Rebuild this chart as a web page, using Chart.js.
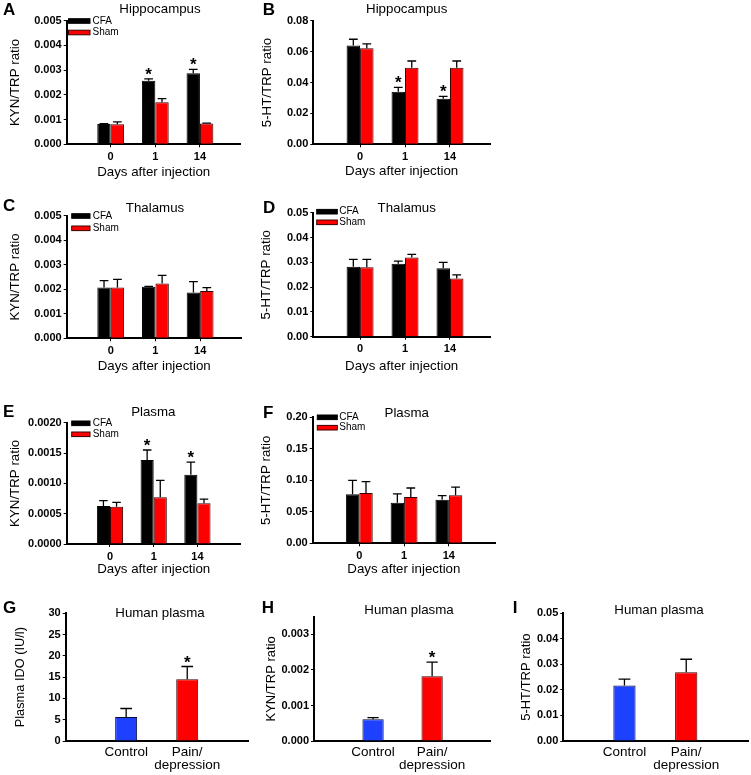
<!DOCTYPE html>
<html>
<head>
<meta charset="utf-8">
<script src="https://cdn.jsdelivr.net/npm/chart.js@4.4.1/dist/chart.umd.min.js"></script>
<style>
  body { margin: 0; background: #fff; overflow: hidden; }
  #wrap { position: relative; width: 751px; height: 775px; overflow: hidden; }
  canvas { position: absolute; }
</style>
</head>
<body>
<div id="wrap"></div>
<script>
// --- data ---
const days = ['0', '1', '14'];
const groups = ['CFA', 'Sham'];
const humanGroups = ['Control', ['Pain/', 'depression']];

// A: hippocampus KYN/TRP
const hipKynCfa = [0.00082, 0.00257, 0.00287];
const hipKynCfaErr = [0.00002, 0.00008, 0.00016];
const hipKynSham = [0.00081, 0.0017, 0.00084];
const hipKynShamErr = [0.0001, 0.00015, 0.00002];
const hipKynStars = [false, true, true];

// B: hippocampus 5-HT/TRP
const hip5htCfa = [0.064, 0.034, 0.0295];
const hip5htCfaErr = [0.004, 0.0028, 0.0015];
const hip5htSham = [0.0622, 0.0496, 0.0496];
const hip5htShamErr = [0.0028, 0.0043, 0.0043];
const hip5htStars = [false, true, true];

// C: thalamus KYN/TRP
const thaKynCfa = [0.00207, 0.0021, 0.00187];
const thaKynCfaErr = [0.00028, 0.00002, 0.00044];
const thaKynSham = [0.00207, 0.00224, 0.00193];
const thaKynShamErr = [0.00033, 0.00033, 0.00014];

// D: thalamus 5-HT/TRP
const tha5htCfa = [0.0282, 0.0294, 0.0276];
const tha5htCfaErr = [0.003, 0.0011, 0.0024];
const tha5htSham = [0.028, 0.0319, 0.0235];
const tha5htShamErr = [0.0032, 0.0013, 0.0014];

// E: plasma KYN/TRP
const plaKynCfa = [0.000626, 0.001385, 0.00114];
const plaKynCfaErr = [0.00009, 0.000165, 0.00021];
const plaKynSham = [0.000615, 0.00077, 0.00067];
const plaKynShamErr = [0.00007, 0.00028, 0.00007];
const plaKynStars = [false, true, true];

// F: plasma 5-HT/TRP
const pla5htCfa = [0.0778, 0.0645, 0.0693];
const pla5htCfaErr = [0.022, 0.014, 0.0064];
const pla5htSham = [0.08, 0.0735, 0.0762];
const pla5htShamErr = [0.018, 0.0143, 0.013];

// G-I: human plasma (control, pain/depression)
const humanIdo = [5.64, 14.5];
const humanIdoErr = [2.0, 3.0];
const humanIdoStars = [false, true];
const humanKyn = [0.00061, 0.00182];
const humanKynErr = [0.00005, 0.0004];
const humanKynStars = [false, true];
const human5ht = [0.0217, 0.0269];
const human5htErr = [0.0025, 0.0051];

// --- drawing ---
const FONT = "'Liberation Sans', Arial, Helvetica, sans-serif";
Chart.defaults.font.family = FONT;
Chart.defaults.color = '#000';

const RED = '#ff0000';
const RED_EDGE = '#3a0000';
const BLUE = '#1e40ff';
const BLUE_EDGE = '#000833';

// error bars, asterisks, panel letter, title and legend
const deco = {
  id: 'deco',
  afterDatasetsDraw(chart, args, o) {
    const ctx = chart.ctx;
    const ys = chart.scales.y;
    chart.data.datasets.forEach((ds, di) => {
      const meta = chart.getDatasetMeta(di);
      meta.data.forEach((bar, i) => {
        const top = ys.getPixelForValue(ds.data[i].y + ds.errs[i]);
        const cap = bar.width * o.cap;
        ctx.save();
        ctx.strokeStyle = '#000';
        ctx.lineWidth = 1.3;
        ctx.beginPath();
        ctx.moveTo(bar.x, bar.y);
        ctx.lineTo(bar.x, top);
        ctx.moveTo(bar.x - cap / 2, top);
        ctx.lineTo(bar.x + cap / 2, top);
        ctx.stroke();
        if (ds.stars && ds.stars[i]) {
          ctx.fillStyle = '#000';
          ctx.font = 'bold 17px ' + FONT;
          ctx.textAlign = 'center';
          ctx.textBaseline = 'alphabetic';
          ctx.fillText('*', bar.x, top + 1);
        }
        ctx.restore();
      });
    });
  },
  afterDraw(chart, args, o) {
    const ctx = chart.ctx;
    ctx.save();
    ctx.fillStyle = '#000';
    ctx.textBaseline = 'middle';
    ctx.textAlign = 'left';
    ctx.font = 'bold 17px ' + FONT;
    ctx.fillText(o.letter[0], o.letter[1], o.letter[2]);
    ctx.textAlign = 'center';
    ctx.font = '13.3px ' + FONT;
    ctx.fillText(o.title[0], o.title[1], o.title[2]);
    if (o.legend) {
      const [lx, rx, ly, gap, tx] = o.legend;
      ctx.textAlign = 'left';
      ctx.font = '10px ' + FONT;
      chart.data.datasets.forEach((ds, k) => {
        const cy = ly + k * gap;
        ctx.fillStyle = ds.backgroundColor;
        ctx.fillRect(lx, cy - 2.3, rx - lx, 4.6);
        ctx.strokeStyle = ds.borderColor;
        ctx.lineWidth = 1;
        ctx.strokeRect(lx, cy - 2.3, rx - lx, 4.6);
        ctx.fillStyle = '#000';
        ctx.fillText(ds.label, tx, cy);
      });
    }
    ctx.restore();
  }
};

function pairSets(cfa, cfaErr, sham, shamErr, stars) {
  return [
    { label: groups[0], data: cfa.map((v, i) => ({ x: i, y: v })), errs: cfaErr, stars: stars,
      backgroundColor: '#000', borderColor: '#000', borderWidth: 1 },
    { label: groups[1], data: sham.map((v, i) => ({ x: i, y: v })), errs: shamErr,
      backgroundColor: RED, borderColor: RED_EDGE, borderWidth: 1 }
  ];
}

function humanSet(vals, errs, stars) {
  return [
    { label: 'Human plasma', data: vals.map((v, i) => ({ x: i, y: v })), errs: errs, stars: stars,
      backgroundColor: [BLUE, RED], borderColor: [BLUE_EDGE, RED_EDGE], borderWidth: 1 }
  ];
}

const wrap = document.getElementById('wrap');

function makePanel(p) {
  const [bl, bt, bw, bh] = p.box;
  const [x0, x1, y0, y1] = p.area;
  const cv = document.createElement('canvas');
  cv.width = bw;
  cv.height = bh;
  cv.style.left = bl + 'px';
  cv.style.top = bt + 'px';
  wrap.appendChild(cv);

  const tf = p.titleSize;
  const lh = tf * 1.2;
  const padLeft = p.yTitleX - bl - lh / 2;
  const yWidth = x0 - bl - padLeft;
  const padRight = bl + bw - x1;
  const padTop = y0 - bt;
  let padBottom = 0;
  let xHeight = bt + bh - y1;
  if (p.xTitle) {
    padBottom = bt + bh - (p.xTitleY + lh / 2);
    xHeight = p.xTitleY + lh / 2 - y1;
  }
  const human = !p.xTitle;
  const lg = p.legend;

  return new Chart(cv, {
    type: 'bar',
    data: { datasets: p.datasets },
    options: {
      responsive: false,
      animation: false,
      events: [],
      layout: { padding: { left: padLeft, right: padRight, top: padTop, bottom: padBottom } },
      datasets: { bar: { categoryPercentage: p.catPct, barPercentage: 1 } },
      plugins: {
        legend: { display: false },
        tooltip: { enabled: false },
        deco: {
          cap: p.cap,
          letter: [p.letter[0], p.letter[1] - bl, p.letter[2] - bt],
          title: [p.title[0], p.title[1] - bl, p.title[2] - bt],
          legend: lg ? [lg[0] - bl, lg[1] - bl, lg[2] - bt, lg[3], lg[4] - bl] : null
        }
      },
      scales: {
        x: {
          type: 'linear',
          bounds: 'data',
          offset: false,
          min: p.xr[0],
          max: p.xr[1],
          afterBuildTicks: s => { s.ticks = p.cats.map((c, i) => ({ value: i })); },
          afterFit: s => { s.height = xHeight; },
          grid: { offset: false, drawOnChartArea: false, drawTicks: !human, tickLength: 3, color: '#000', lineWidth: 1 },
          border: { color: '#000', width: 2 },
          ticks: {
            autoSkip: false,
            maxRotation: 0,
            padding: human ? 5 : 3,
            color: '#000',
            font: human ? { size: 13.5, lineHeight: 0.95 } : { size: 11, weight: 'bold' },
            callback: v => p.cats[v]
          },
          title: p.xTitle
            ? { display: true, text: p.xTitle, padding: 0, color: '#000', font: { size: tf } }
            : { display: false }
        },
        y: {
          bounds: 'data',
          min: 0,
          max: p.yMax,
          afterFit: s => { s.width = yWidth; },
          grid: { drawOnChartArea: false, tickLength: 3, color: '#000', lineWidth: 1 },
          border: { color: '#000', width: 2 },
          ticks: {
            stepSize: p.yStep,
            includeBounds: false,
            padding: 2,
            color: '#000',
            font: { size: 11, weight: 'bold' },
            callback: v => v.toFixed(p.yDec)
          },
          title: { display: true, text: p.yTitle, padding: 0, color: '#000', font: { size: tf } }
        }
      }
    },
    plugins: [deco]
  });
}

const XT = 'Days after injection';

// A
makePanel({
  box: [0, 0, 250, 185], area: [66.7, 240.7, 20.7, 144.3], xr: [-0.985, 2.913], cats: days,
  yMax: 0.005, yStep: 0.001, yDec: 3, yTitle: 'KYN/TRP ratio', yTitleX: 15, titleSize: 13.3,
  xTitle: XT, xTitleY: 172, catPct: 0.6, cap: 0.65,
  letter: ['A', 3, 10], title: ['Hippocampus', 160, 9.3], legend: [68.5, 90, 21, 11.5, 92.5],
  datasets: pairSets(hipKynCfa, hipKynCfaErr, hipKynSham, hipKynShamErr, hipKynStars)
});
// B
makePanel({
  box: [250, 0, 250, 185], area: [313.3, 490, 20.7, 144.3], xr: [-1.04, 2.89], cats: days,
  yMax: 0.08, yStep: 0.02, yDec: 2, yTitle: '5-HT/TRP ratio', yTitleX: 267.3, titleSize: 13.3,
  xTitle: XT, xTitleY: 171.7, catPct: 0.6, cap: 0.65,
  letter: ['B', 262.7, 10], title: ['Hippocampus', 406.7, 9.3], legend: null,
  datasets: pairSets(hip5htCfa, hip5htCfaErr, hip5htSham, hip5htShamErr, hip5htStars)
});
// C
makePanel({
  box: [0, 195, 250, 185], area: [66.7, 241.7, 215.7, 338.3], xr: [-0.985, 2.93], cats: days,
  yMax: 0.005, yStep: 0.001, yDec: 3, yTitle: 'KYN/TRP ratio', yTitleX: 15, titleSize: 13.3,
  xTitle: XT, xTitleY: 366.7, catPct: 0.6, cap: 0.65,
  letter: ['C', 3, 206.7], title: ['Thalamus', 155, 208.3], legend: [71.7, 90, 216, 12.3, 92.7],
  datasets: pairSets(thaKynCfa, thaKynCfaErr, thaKynSham, thaKynShamErr, null)
});
// D
makePanel({
  box: [250, 195, 250, 185], area: [313.3, 490, 212.7, 336.7], xr: [-1.04, 2.89], cats: days,
  yMax: 0.05, yStep: 0.01, yDec: 2, yTitle: '5-HT/TRP ratio', yTitleX: 266.7, titleSize: 13.3,
  xTitle: XT, xTitleY: 366.7, catPct: 0.6, cap: 0.65,
  letter: ['D', 263, 208.7], title: ['Thalamus', 406.7, 208.3], legend: [316.7, 337.3, 211.7, 10.6, 339.3],
  datasets: pairSets(tha5htCfa, tha5htCfaErr, tha5htSham, tha5htShamErr, null)
});
// E
makePanel({
  box: [0, 395, 250, 185], area: [66.7, 240.7, 422.7, 544], xr: [-0.99, 2.99], cats: days,
  yMax: 0.002, yStep: 0.0005, yDec: 4, yTitle: 'KYN/TRP ratio', yTitleX: 15.8, titleSize: 13.3,
  xTitle: XT, xTitleY: 569.3, catPct: 0.6, cap: 0.65,
  letter: ['E', 3, 412], title: ['Plasma', 153.3, 412.7], legend: [71.7, 90, 423.3, 11, 92.7],
  datasets: pairSets(plaKynCfa, plaKynCfaErr, plaKynSham, plaKynShamErr, plaKynStars)
});
// F
makePanel({
  box: [250, 395, 250, 185], area: [312.7, 495, 417.3, 543.3], xr: [-1.04, 3.03], cats: days,
  yMax: 0.2, yStep: 0.05, yDec: 2, yTitle: '5-HT/TRP ratio', yTitleX: 266.7, titleSize: 13.3,
  xTitle: XT, xTitleY: 569.3, catPct: 0.6, cap: 0.65,
  letter: ['F', 263, 413.3], title: ['Plasma', 406.7, 413.3], legend: [317.3, 337.3, 417.3, 10.4, 339.3],
  datasets: pairSets(pla5htCfa, pla5htCfaErr, pla5htSham, pla5htShamErr, null)
});
// G
makePanel({
  box: [0, 595, 253, 180], area: [65.7, 248.3, 613.3, 741], xr: [-0.99, 2.0], cats: humanGroups,
  yMax: 30, yStep: 5, yDec: 0, yTitle: 'Plasma IDO (IU/l)', yTitleX: 20.7, titleSize: 12.8,
  xTitle: null, catPct: 0.36, cap: 0.53,
  letter: ['G', 3, 608.3], title: ['Human plasma', 160, 613.3], legend: null,
  datasets: humanSet(humanIdo, humanIdoErr, humanIdoStars)
});
// H
makePanel({
  box: [250, 595, 245, 180], area: [314, 490, 616.7, 741], xr: [-1.0, 1.98], cats: humanGroups,
  yMax: 0.0035, yStep: 0.001, yDec: 3, yTitle: 'KYN/TRP ratio', yTitleX: 271.7, titleSize: 13,
  xTitle: null, catPct: 0.36, cap: 0.53,
  letter: ['H', 261.7, 608.3], title: ['Human plasma', 409, 610], legend: null,
  datasets: humanSet(humanKyn, humanKynErr, humanKynStars)
});
// I
makePanel({
  box: [495, 595, 260, 180], area: [563.3, 748, 613.3, 741], xr: [-0.99, 2.0], cats: humanGroups,
  yMax: 0.05, yStep: 0.01, yDec: 2, yTitle: '5-HT/TRP ratio', yTitleX: 526.7, titleSize: 13,
  xTitle: null, catPct: 0.36, cap: 0.53,
  letter: ['I', 512.7, 608], title: ['Human plasma', 659, 610], legend: null,
  datasets: humanSet(human5ht, human5htErr, null)
});
</script>
</body>
</html>
